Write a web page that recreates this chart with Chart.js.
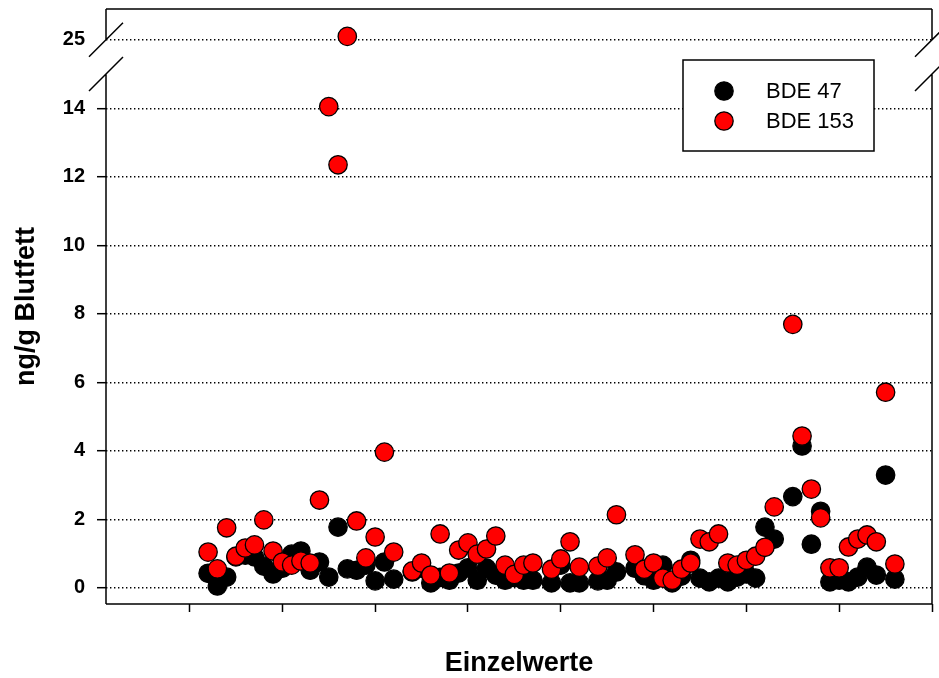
<!DOCTYPE html>
<html>
<head>
<meta charset="utf-8">
<script src="https://cdn.jsdelivr.net/npm/chart.js@4.4.1/dist/chart.umd.min.js"></script>
<style>
  html, body { margin: 0; padding: 0; background: #fff; }
  #wrap { width: 939px; height: 678px; position: relative; }
</style>
</head>
<body>
<div id="wrap"><canvas id="c"></canvas></div>
<script>
// Probennummer (x) und Messwerte in ng/g Blutfett
const sampleNo = [12, 13, 14, 15, 16, 17, 18, 19, 20, 21, 22, 23, 24, 25, 26, 27, 28, 29, 30, 31, 32,
  34, 35, 36, 37, 38, 39, 40, 41, 42, 43, 44, 45, 46, 47,
  49, 50, 51, 52,
  54, 55, 56,
  58, 59, 60, 61, 62, 63, 64, 65, 66, 67, 68, 69, 70, 71, 72, 73,
  75, 76, 77, 78, 79, 80, 81, 82, 83, 84, 85, 86];

const bde47 = [0.42, 0.05, 0.31, 0.9, 0.95, 0.9, 0.63, 0.4, 0.57, 0.98, 1.07, 0.51, 0.75, 0.31, 1.77, 0.55, 0.51, 0.66, 0.2, 0.75, 0.25,
  0.46, 0.57, 0.14, 0.3, 0.22, 0.43, 0.58, 0.22, 0.57, 0.37, 0.22, 0.3, 0.22, 0.22,
  0.14, 0.66, 0.14, 0.14,
  0.2, 0.22, 0.46,
  0.57, 0.35, 0.22, 0.66, 0.14, 0.34, 0.8, 0.28, 0.17, 0.28, 0.17, 0.31, 0.4, 0.28, 1.77, 1.42,
  2.66, 4.14, 1.27, 2.23, 0.17, 0.22, 0.17, 0.31, 0.6, 0.37, 3.29, 0.25];

const bde153 = [1.04, 0.55, 1.75, 0.92, 1.16, 1.25, 1.98, 1.07, 0.75, 0.66, 0.78, 0.72, 2.56, 14.05, 12.35, 25.1, 1.95, 0.87, 1.48, 3.96, 1.04,
  0.49, 0.72, 0.37, 1.57, 0.43, 1.1, 1.31, 0.98, 1.13, 1.51, 0.66, 0.39, 0.66, 0.72,
  0.54, 0.84, 1.34, 0.6,
  0.63, 0.87, 2.13,
  0.96, 0.54, 0.72, 0.28, 0.22, 0.54, 0.72, 1.42, 1.34, 1.57, 0.72, 0.66, 0.8, 0.92, 1.18, 2.36,
  7.69, 4.43, 2.88, 2.04, 0.58, 0.58, 1.19, 1.42, 1.54, 1.34, 5.71, 0.69];

const seriesNames = ['BDE 47', 'BDE 153'];
const lowerTicks = [0, 2, 4, 6, 8, 10, 12, 14];
const upperTicks = [25];
const xTicks = [10, 20, 30, 40, 50, 60, 70, 80, 90];

// unterbrochene y-Achse: 0..14 linear, darueber 25 eng angesetzt
const BREAK_LOW = 15;   // Achsenposition unterer Bruchstrich
const UPPER_BASE = 16;  // Achsenposition des Wertes 25
function toAxis(v) { return v > 20 ? UPPER_BASE + (v - 25) : v; }
function fromAxis(p) { return p > BREAK_LOW ? p - UPPER_BASE + 25 : p; }

const FONT = '"Liberation Sans", Arial, Helvetica, sans-serif';

function points(values) {
  return sampleNo.map((x, i) => ({ x: x, y: toAxis(values[i]) }));
}

// Achsenrahmen mit Bruchstrichen
const brokenAxis = {
  id: 'brokenAxis',
  afterDraw(chart) {
    const { ctx, chartArea: a, scales } = chart;
    const yHi = scales.y.getPixelForValue(UPPER_BASE);
    const yLo = scales.y.getPixelForValue(BREAK_LOW);
    ctx.save();
    ctx.strokeStyle = '#000';
    ctx.lineWidth = 1.5;
    ctx.beginPath();
    ctx.moveTo(a.left, a.top); ctx.lineTo(a.right, a.top);
    ctx.moveTo(a.left, a.bottom); ctx.lineTo(a.right, a.bottom);
    [a.left, a.right].forEach(x => {
      ctx.moveTo(x, a.top); ctx.lineTo(x, yHi);
      ctx.moveTo(x, yLo); ctx.lineTo(x, a.bottom);
      [yHi, yLo].forEach(yc => {
        ctx.moveTo(x - 17, yc + 17);
        ctx.lineTo(x + 17, yc - 17);
      });
    });
    ctx.stroke();
    ctx.restore();
  }
};

// Legende im Kasten oben rechts
const boxLegend = {
  id: 'boxLegend',
  afterDraw(chart) {
    const { ctx, chartArea: a } = chart;
    const left = a.right - 249, top = a.top + 51, w = 191, h = 91;
    ctx.save();
    ctx.fillStyle = '#fff';
    ctx.fillRect(left, top, w, h);
    ctx.strokeStyle = '#000';
    ctx.lineWidth = 1.5;
    ctx.strokeRect(left, top, w, h);
    ctx.font = '22px ' + FONT;
    ctx.textBaseline = 'middle';
    chart.data.datasets.forEach((ds, i) => {
      const cy = top + 31 + i * 30;
      ctx.beginPath();
      ctx.arc(left + 41, cy, ds.pointRadius, 0, Math.PI * 2);
      ctx.fillStyle = ds.backgroundColor;
      ctx.fill();
      ctx.lineWidth = ds.borderWidth;
      ctx.strokeStyle = ds.borderColor;
      ctx.stroke();
      ctx.fillStyle = '#000';
      ctx.fillText(ds.label, left + 83, cy + 1);
    });
    ctx.restore();
  }
};

new Chart(document.getElementById('c'), {
  type: 'scatter',
  data: {
    datasets: [{
      label: seriesNames[0],
      data: points(bde47),
      backgroundColor: '#000000',
      borderColor: '#000000',
      borderWidth: 1.3,
      pointRadius: 9.2,
      order: 2
    }, {
      label: seriesNames[1],
      data: points(bde153),
      backgroundColor: '#ff0000',
      borderColor: '#000000',
      borderWidth: 1.3,
      pointRadius: 9.2,
      order: 1
    }]
  },
  options: {
    responsive: true,
    maintainAspectRatio: false,
    animation: false,
    layout: { autoPadding: false, padding: { top: 9, right: 7, left: 0, bottom: 0 } },
    plugins: {
      legend: { display: false },
      tooltip: { enabled: false }
    },
    scales: {
      x: {
        type: 'linear',
        min: 1,
        max: 90,
        afterBuildTicks: s => { s.ticks = xTicks.map(v => ({ value: v })); },
        afterFit: s => { s.height = 74; s.paddingLeft = 0; s.paddingRight = 0; },
        ticks: { display: false },
        grid: {
          drawOnChartArea: false,
          tickLength: 8,
          tickWidth: 1.5,
          tickColor: '#000'
        },
        border: { display: false },
        title: {
          display: true,
          text: 'Einzelwerte',
          color: '#000',
          font: { family: FONT, size: 27, weight: 'bold', lineHeight: 1.1 },
          padding: { top: 0, bottom: 0 }
        }
      },
      y: {
        type: 'linear',
        min: -0.476,
        max: 16.9,
        afterBuildTicks: s => {
          s.ticks = lowerTicks.concat(upperTicks).map(v => ({ value: toAxis(v) }));
        },
        afterFit: s => { s.width = 106; s.paddingTop = 0; s.paddingBottom = 0; },
        ticks: {
          color: '#000',
          padding: 12,
          font: { family: FONT, size: 20, weight: 'bold' },
          callback: v => String(fromAxis(v))
        },
        grid: {
          color: '#000',
          lineWidth: 1.4,
          tickLength: 9,
          tickWidth: 1.5,
          tickBorderDash: [],
          tickColor: c => (c.tick && c.tick.value === UPPER_BASE) ? 'rgba(0,0,0,0)' : '#000'
        },
        border: { display: false, dash: [1.4, 2.6] },
        title: {
          display: true,
          text: 'ng/g Blutfett',
          color: '#000',
          font: { family: FONT, size: 27, weight: 'bold', lineHeight: 1.1 },
          padding: { top: 12, bottom: 0 }
        }
      }
    }
  },
  plugins: [brokenAxis, boxLegend]
});
</script>
</body>
</html>
